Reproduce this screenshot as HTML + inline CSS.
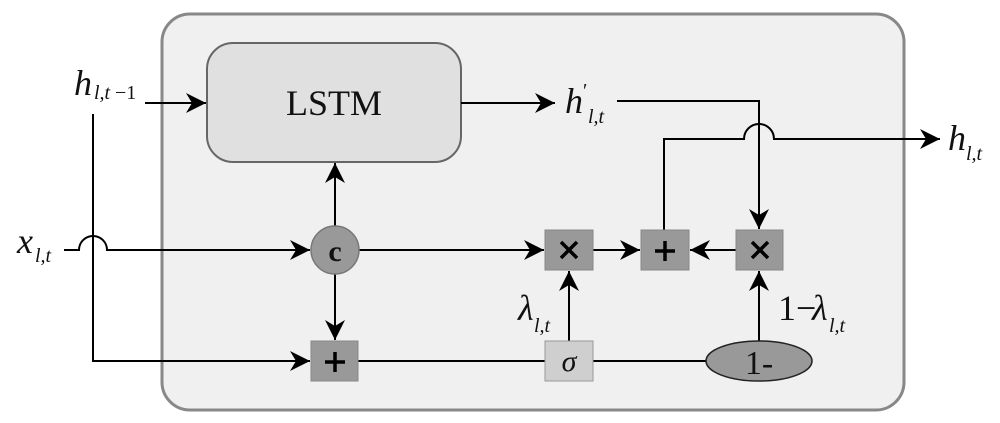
<!DOCTYPE html>
<html><head><meta charset="utf-8"><style>
html,body{margin:0;padding:0;background:#fff;}
svg{display:block;}
text{font-family:"Liberation Serif",serif;fill:#111;}
.it{font-style:italic;}
</style></head><body>
<svg width="1000" height="423" viewBox="0 0 1000 423" xmlns="http://www.w3.org/2000/svg">
<defs>
<marker id="a" viewBox="0 0 10 10" refX="10" refY="5" markerWidth="20" markerHeight="20" markerUnits="userSpaceOnUse" orient="auto">
<path d="M0,0 L10,5 L0,10 L3,5 z" fill="#000"/>
</marker>
</defs>
<rect x="162" y="14" width="742" height="396" rx="28" fill="#f0f0f0" stroke="#888" stroke-width="3"/>
<rect x="207" y="43" width="254" height="119" rx="26" fill="#e0e0e0" stroke="#666" stroke-width="2"/>
<text x="334" y="115" font-size="36" text-anchor="middle">LSTM</text>

<g stroke="#000" stroke-width="2" fill="none">
<line x1="145" y1="103" x2="206" y2="103" marker-end="url(#a)"/>
<polyline points="93,114 93,361 310,361" marker-end="url(#a)"/>
<path d="M64,250 H79 A14,14 0 0 1 107,250 H310" marker-end="url(#a)"/>
<line x1="335" y1="226" x2="335" y2="163" marker-end="url(#a)"/>
<line x1="335" y1="274" x2="335" y2="340" marker-end="url(#a)"/>
<line x1="359" y1="250" x2="544" y2="250" marker-end="url(#a)"/>
<line x1="593" y1="250" x2="640" y2="250" marker-end="url(#a)"/>
<line x1="736" y1="250" x2="690" y2="250" marker-end="url(#a)"/>
<line x1="358" y1="361" x2="545" y2="361"/>
<line x1="593" y1="361" x2="706" y2="361"/>
<line x1="569" y1="341" x2="569" y2="271" marker-end="url(#a)"/>
<line x1="759" y1="341" x2="759" y2="271" marker-end="url(#a)"/>
<line x1="461" y1="103" x2="555" y2="103" marker-end="url(#a)"/>
<polyline points="617,101 759,101 759,229" marker-end="url(#a)"/>
<path d="M664,230 V139 H744 A15,15 0 0 1 774,139 H940" marker-end="url(#a)"/>
</g>

<circle cx="335" cy="250" r="24" fill="#999" stroke="#777" stroke-width="1.5"/>
<text x="335" y="261" font-size="30" font-weight="bold" text-anchor="middle">c</text>

<rect x="311" y="341" width="47" height="40" fill="#999" stroke="#888"/>
<rect x="545" y="230" width="48" height="40" fill="#999" stroke="#888"/>
<rect x="641" y="230" width="48" height="40" fill="#999" stroke="#888"/>
<rect x="736" y="230" width="47" height="40" fill="#999" stroke="#888"/>
<g stroke="#000" stroke-width="3.5">
<line x1="325" y1="362" x2="345" y2="362"/><line x1="335" y1="352" x2="335" y2="372"/>
<line x1="655" y1="251" x2="675" y2="251"/><line x1="665" y1="241" x2="665" y2="261"/>
<line x1="561" y1="242" x2="577" y2="258"/><line x1="577" y1="242" x2="561" y2="258"/>
<line x1="752" y1="242" x2="768" y2="258"/><line x1="768" y1="242" x2="752" y2="258"/>
</g>
<rect x="545" y="341" width="48" height="40" fill="#cfcfcf" stroke="#999"/>
<text x="569" y="371" font-size="30" text-anchor="middle" class="it">σ</text>
<ellipse cx="759" cy="361" rx="53" ry="20" fill="#999" stroke="#222" stroke-width="1.5"/>
<text x="759" y="374" font-size="34" text-anchor="middle">1-</text>

<text x="74" y="95" font-size="36" class="it">h</text>
<text x="94" y="99" font-size="20" class="it">l,t</text>
<text x="115" y="99" font-size="20">−1</text>
<text x="17" y="253" font-size="36" class="it">x</text>
<text x="35" y="262" font-size="20" class="it">l,t</text>
<text x="565" y="113" font-size="36" class="it">h</text>
<text x="583" y="97" font-size="20">′</text>
<text x="588" y="123" font-size="20" class="it">l,t</text>
<text x="948" y="150" font-size="36" class="it">h</text>
<text x="966" y="160" font-size="20" class="it">l,t</text>
<text x="518" y="320" font-size="36" class="it">λ</text>
<text x="534" y="332" font-size="20" class="it">l,t</text>
<text x="778" y="320" font-size="36">1−</text>
<text x="812" y="320" font-size="36" class="it">λ</text>
<text x="829" y="332" font-size="20" class="it">l,t</text>
</svg>
</body></html>
